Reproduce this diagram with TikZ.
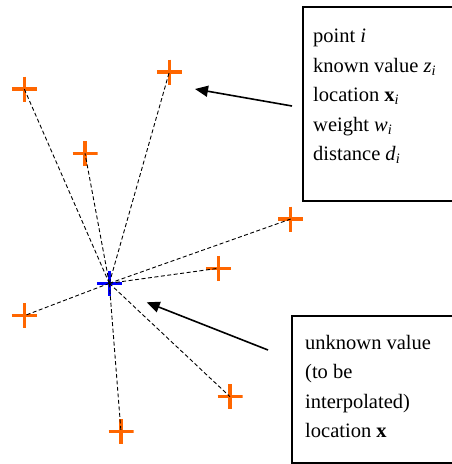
\documentclass[tikz,border=0pt]{standalone}
\usepackage{fontspec}
\setmainfont{Liberation Serif}
\usetikzlibrary{arrows.meta}
\definecolor{ptorange}{RGB}{255,102,0}
\definecolor{ptblue}{RGB}{0,0,255}
\tikzset{
  known/.style={inner sep=0pt, minimum size=25pt, path picture={
    \draw[ptorange, line width=3.2pt] (path picture bounding box.north) -- (path picture bounding box.south)
      (path picture bounding box.west) -- (path picture bounding box.east);}},
  unknown/.style={inner sep=0pt, minimum size=25pt, path picture={
    \draw[ptblue, line width=3.2pt] (path picture bounding box.north) -- (path picture bounding box.south)
      (path picture bounding box.west) -- (path picture bounding box.east);}},
  link/.style={dash pattern=on 4pt off 2.5pt, line width=0.9pt, black},
  pointer/.style={line width=1.6pt, -{Triangle[length=13pt,width=11pt]}},
  infobox/.style={draw, line width=1.3pt},
  infotext/.style={anchor=north west, align=left, inner sep=0pt, font=\fontsize{20.5}{29.5}\selectfont},
}
\begin{document}
\begin{tikzpicture}[x=1pt,y=-1pt]
\useasboundingbox (0,0) rectangle (452,464);
\fill[white] (0,0) rectangle (452,464);
% boxes
\draw[infobox] (303,7) rectangle (470,201);
\draw[infobox] (292,316) rectangle (470,463);
\node[infotext] (t1) at (313,29) {point \textit{i}\\known value \textit{z}\textsubscript{\textit{i}}\\location \textbf{x}\textsubscript{\textit{i}}\\weight \textit{w}\textsubscript{\textit{i}}\\distance \textit{d}\textsubscript{\textit{i}}};
\node[infotext] (t2) at (305,335) {unknown value\\(to be\\interpolated)\\location \textbf{x}};
% points
\coordinate (c) at (109.3,283.3);
\node[known] (p1) at (24.3,89) {};
\node[known] (p2) at (169.3,72) {};
\node[known] (p3) at (85,153.3) {};
\node[known] (p4) at (290.7,219) {};
\node[known] (p5) at (218.3,268.3) {};
\node[known] (p6) at (24.3,315.7) {};
\node[known] (p7) at (230,396.7) {};
\node[known] (p8) at (121,431.7) {};
\node[unknown] (u) at (c) {};
\foreach \p in {p1,p2,p3,p4,p5,p6,p7,p8} \draw[link] (u.center) -- (\p.center);
% arrows
\coordinate (a1s) at (292,106);
\coordinate (a1e) at (195,89);
\coordinate (a2s) at (268,350);
\coordinate (a2e) at (146.7,302.3);
\draw[pointer] (a1s) -- (a1e);
\draw[pointer] (a2s) -- (a2e);
\end{tikzpicture}
\end{document}
